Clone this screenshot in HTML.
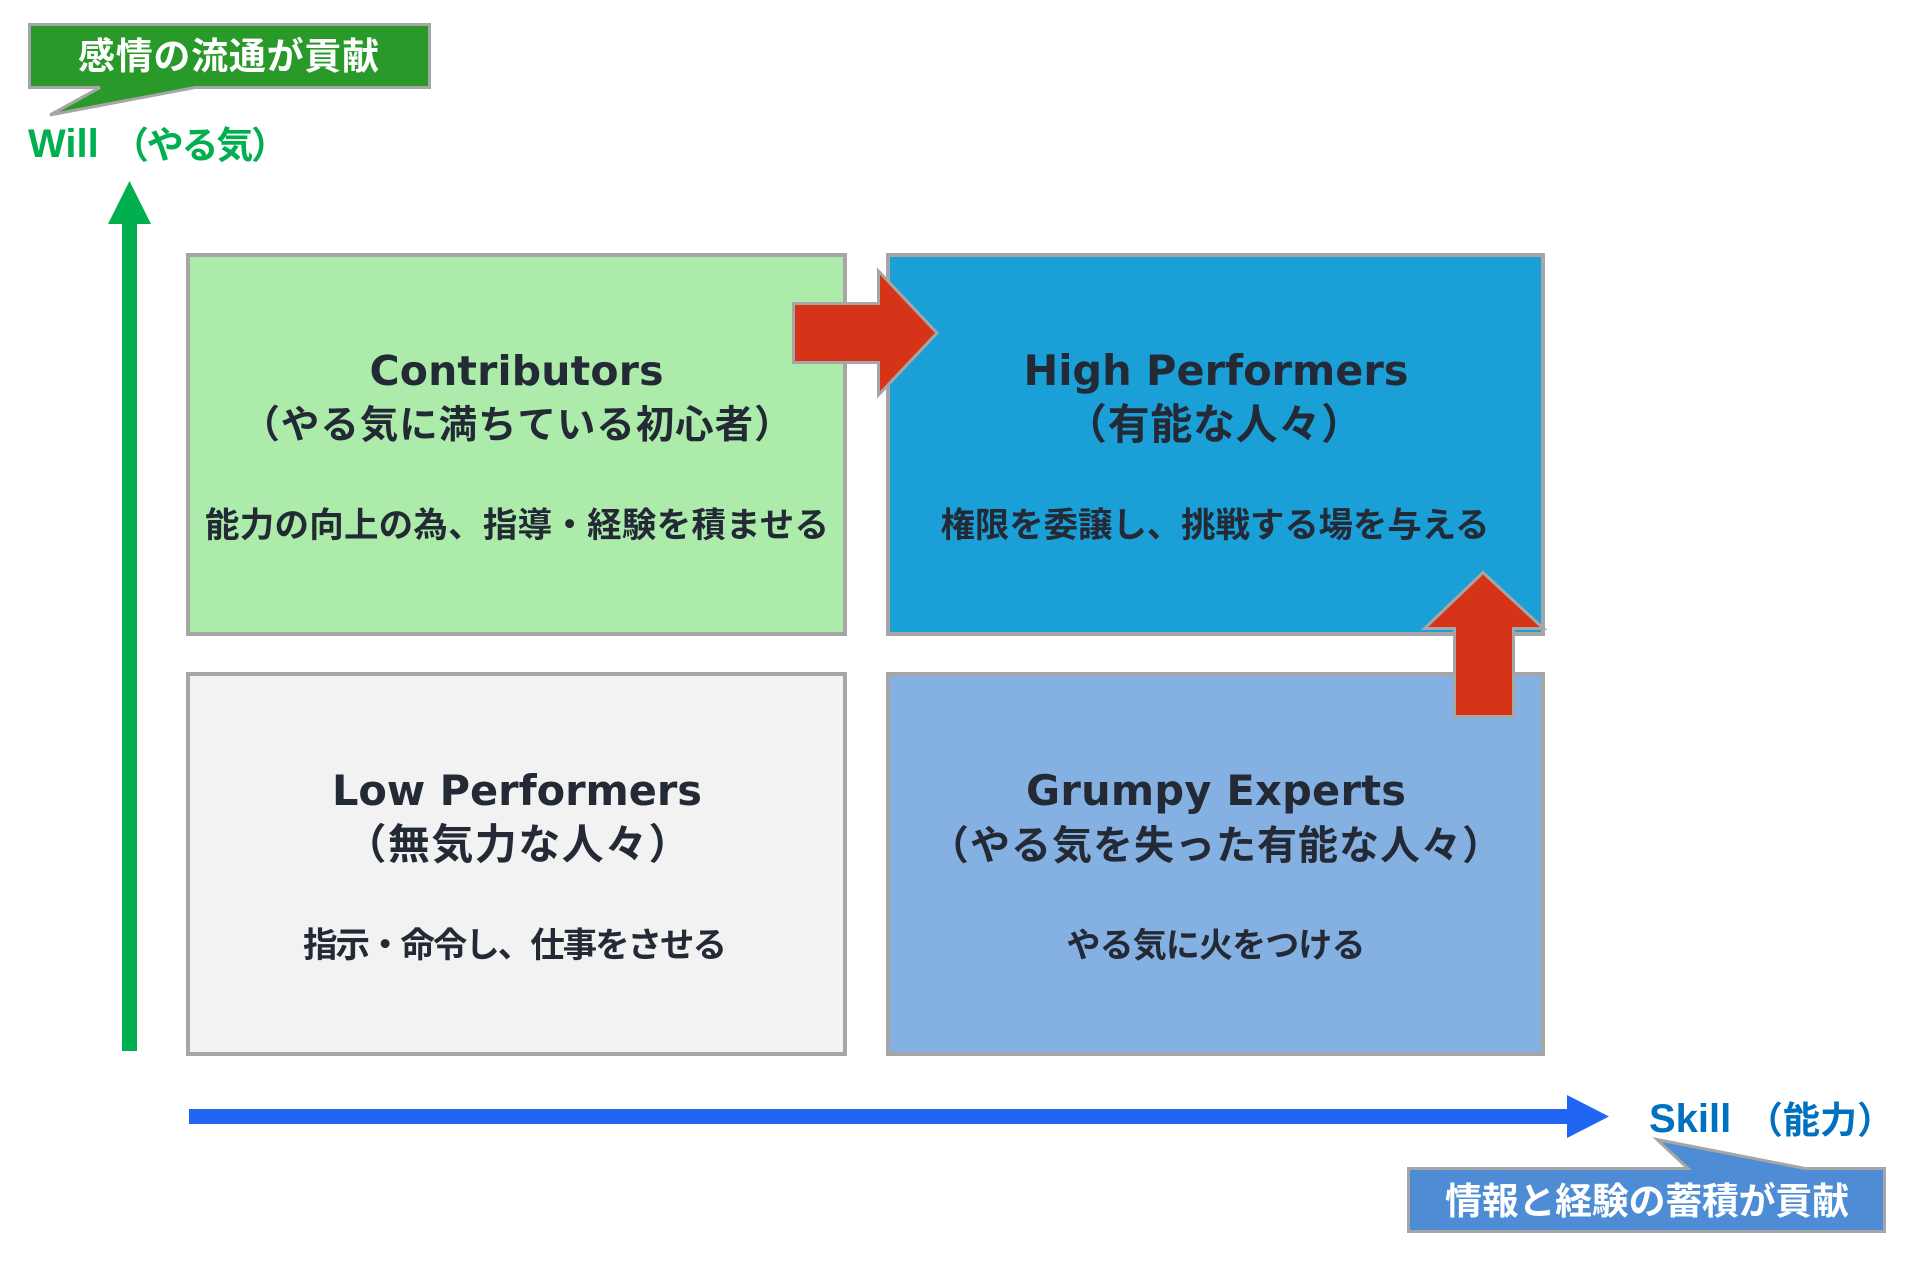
<!DOCTYPE html>
<html>
<head>
<meta charset="utf-8">
<style>
  html, body { margin:0; padding:0; background:#ffffff; }
  body { width:1914px; height:1262px; overflow:hidden; }
  svg { display:block; }
  .lat { font-family:"DejaVu Sans","Liberation Sans",sans-serif; font-weight:bold; fill:#232a36; }
  .jp { font-family:"Liberation Sans","Noto Sans CJK JP",sans-serif; font-weight:bold; fill:#232a36; }
</style>
</head>
<body>
<svg width="1914" height="1262" viewBox="0 0 1914 1262" xmlns="http://www.w3.org/2000/svg">
  <rect x="0" y="0" width="1914" height="1262" fill="#ffffff"/>

  <!-- Green callout -->
  <path d="M29.5,24.5 H429.5 V87.5 H195 L50,115 L100,87.5 H29.5 Z" fill="#299a2a" stroke="#a6a6a6" stroke-width="3" stroke-linejoin="miter"/>
  <text x="228.5" y="69" text-anchor="middle" font-size="37" textLength="301" lengthAdjust="spacing"
        style="font-family:'Liberation Sans','Noto Sans CJK JP',sans-serif;font-weight:bold;fill:#ffffff;">感情の流通が貢献</text>

  <!-- Will label -->
  <text x="28" y="157" font-size="40" style="font-family:'Liberation Sans',sans-serif;font-weight:bold;fill:#00b050;">Will</text>
  <text x="112" y="158" font-size="37" textLength="176" lengthAdjust="spacing"
        style="font-family:'Liberation Sans','Noto Sans CJK JP',sans-serif;font-weight:bold;fill:#00b050;">（やる気）</text>

  <!-- Green vertical arrow -->
  <rect x="122" y="222" width="15" height="829" fill="#00b050"/>
  <polygon points="108,224 151,224 129.5,181" fill="#00b050"/>

  <!-- Quadrant boxes -->
  <rect x="188" y="255" width="657" height="379" fill="#adebab" stroke="#a6a6a6" stroke-width="4"/>
  <rect x="888" y="255" width="655" height="379" fill="#1a9fd7" stroke="#a6a6a6" stroke-width="4"/>
  <rect x="188" y="674" width="657" height="380" fill="#f2f2f2" stroke="#a6a6a6" stroke-width="4"/>
  <rect x="888" y="674" width="655" height="380" fill="#85b1e2" stroke="#a6a6a6" stroke-width="4"/>

  <!-- Red right arrow -->
  <path d="M793.5,303.5 H878.5 V271 L937,333 L878.5,395 V362.5 H793.5 Z" fill="#d63418" stroke="#a6a6a6" stroke-width="3" stroke-linejoin="miter"/>

  <!-- Red up arrow -->
  <path d="M1454.5,716.5 V628.5 H1424.5 L1483,572.5 L1543.5,628.5 H1513.5 V716.5 Z" fill="#d63418" stroke="#a6a6a6" stroke-width="3" stroke-linejoin="miter"/>

  <!-- Contributors -->
  <text class="lat" x="516.5" y="385" text-anchor="middle" font-size="41" textLength="294" lengthAdjust="spacing">Contributors</text>
  <text class="jp" x="517" y="438" text-anchor="middle" font-size="38.5" textLength="551" lengthAdjust="spacing">（やる気に満ちている初心者）</text>
  <text class="jp" x="517" y="537" text-anchor="middle" font-size="34.5" textLength="624" lengthAdjust="spacing">能力の向上の為、指導・経験を積ませる</text>

  <!-- High Performers -->
  <text class="lat" x="1216" y="385" text-anchor="middle" font-size="41.5" textLength="385" lengthAdjust="spacing">High Performers</text>
  <text class="jp" x="1214" y="439" text-anchor="middle" font-size="42" textLength="298" lengthAdjust="spacing">（有能な人々）</text>
  <text class="jp" x="1215" y="537" text-anchor="middle" font-size="34.5" textLength="549" lengthAdjust="spacing">権限を委譲し、挑戦する場を与える</text>

  <!-- Low Performers -->
  <text class="lat" x="517" y="805" text-anchor="middle" font-size="41.5" textLength="370" lengthAdjust="spacing">Low Performers</text>
  <text class="jp" x="517.5" y="859" text-anchor="middle" font-size="42" textLength="346" lengthAdjust="spacing">（無気力な人々）</text>
  <text class="jp" x="515" y="957" text-anchor="middle" font-size="34.5" textLength="424" lengthAdjust="spacing">指示・命令し、仕事をさせる</text>

  <!-- Grumpy Experts -->
  <text class="lat" x="1216" y="805" text-anchor="middle" font-size="41.5" textLength="380" lengthAdjust="spacing">Grumpy Experts</text>
  <text class="jp" x="1215.5" y="859" text-anchor="middle" font-size="40" textLength="573" lengthAdjust="spacing">（やる気を失った有能な人々）</text>
  <text class="jp" x="1216" y="957" text-anchor="middle" font-size="34" textLength="299" lengthAdjust="spacing">やる気に火をつける</text>

  <!-- Blue horizontal arrow -->
  <rect x="189" y="1109" width="1380" height="15" fill="#2166f3"/>
  <polygon points="1567,1095 1567,1138 1609,1116.5" fill="#2166f3"/>

  <!-- Skill label -->
  <text x="1649" y="1132" font-size="40" style="font-family:'Liberation Sans',sans-serif;font-weight:bold;fill:#0070c0;">Skill</text>
  <text x="1746" y="1133" font-size="37" textLength="148" lengthAdjust="spacing"
        style="font-family:'Liberation Sans','Noto Sans CJK JP',sans-serif;font-weight:bold;fill:#0070c0;">（能力）</text>

  <!-- Blue callout -->
  <path d="M1408.5,1168.5 H1688 L1657,1139.5 L1805,1168.5 H1884.5 V1231.5 H1408.5 Z" fill="#4e8dd5" stroke="#a6a6a6" stroke-width="3" stroke-linejoin="miter"/>
  <text x="1647" y="1214" text-anchor="middle" font-size="37" textLength="404" lengthAdjust="spacing"
        style="font-family:'Liberation Sans','Noto Sans CJK JP',sans-serif;font-weight:bold;fill:#ffffff;">情報と経験の蓄積が貢献</text>
</svg>
</body>
</html>
